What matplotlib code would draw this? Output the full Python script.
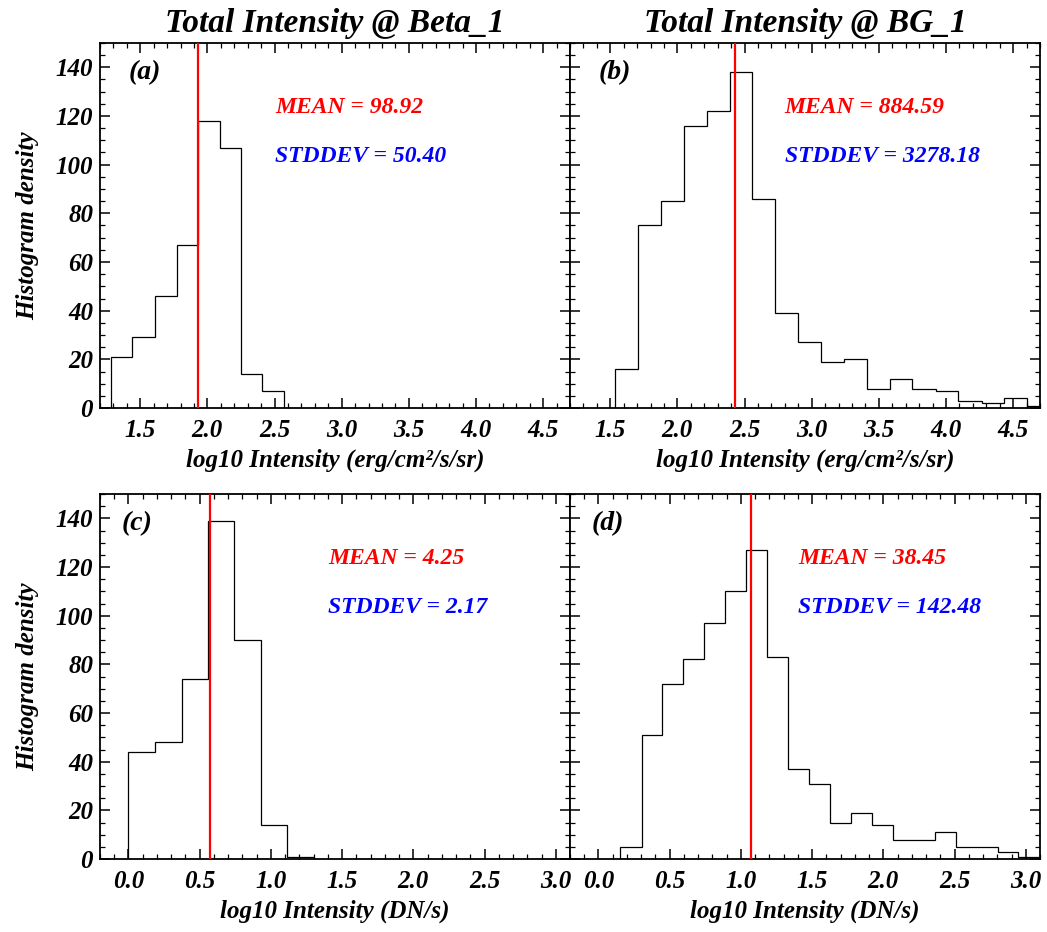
import matplotlib

matplotlib.use("Agg")

import matplotlib.pyplot as plt
from matplotlib.ticker import MultipleLocator

plt.rcParams["font.family"] = ["Liberation Serif", "DejaVu Serif"]
plt.rcParams["font.weight"] = "bold"
plt.rcParams["font.style"] = "italic"
plt.rcParams["axes.titleweight"] = "bold"
plt.rcParams["axes.labelweight"] = "bold"

# panel (a): Beta_1, erg units
edges_a = [1.28, 1.44, 1.61, 1.77, 1.93, 2.09, 2.25, 2.41, 2.57]
counts_a = [21, 29, 46, 67, 118, 107, 14, 7]
line_a = 1.93

# panel (b): BG_1, erg units
edges_b = [1.535, 1.709, 1.878, 2.047, 2.220, 2.389, 2.558, 2.727, 2.900, 3.069,
           3.238, 3.411, 3.580, 3.749, 3.923, 4.092, 4.265, 4.429, 4.603, 4.774]
counts_b = [16, 75, 85, 116, 122, 138, 86, 39, 27, 19, 20, 8, 12, 8, 7, 3, 2, 4, 1]
line_b = 2.43

# panel (c): Beta_1, DN/s
edges_c = [0.0, 0.186, 0.373, 0.560, 0.743, 0.928, 1.113, 1.300]
counts_c = [44, 48, 74, 139, 90, 14, 1]
line_c = 0.57

# panel (d): BG_1, DN/s
edges_d = [0.151, 0.303, 0.448, 0.596, 0.743, 0.891, 1.038, 1.183, 1.333, 1.481, 1.628,
           1.774, 1.921, 2.069, 2.216, 2.364, 2.509, 2.656, 2.804, 2.949, 3.097]
counts_d = [5, 51, 72, 82, 97, 110, 127, 83, 37, 31, 15, 19, 14, 8, 8, 11, 5, 5, 3, 1]
line_d = 1.07

panel_tags = ["(a)", "(b)", "(c)", "(d)"]
mean_texts = ["MEAN = 98.92", "MEAN = 884.59", "MEAN = 4.25", "MEAN = 38.45"]
std_texts = ["STDDEV = 50.40", "STDDEV = 3278.18", "STDDEV = 2.17", "STDDEV = 142.48"]
titles = ["Total Intensity @ Beta_1", "Total Intensity @ BG_1"]
xlabel_top = "log10 Intensity (erg/cm\u00b2/s/sr)"
xlabel_bottom = "log10 Intensity (DN/s)"
ylabel = "Histogram density"

W, H = 1047, 932
fig = plt.figure(figsize=(W / 100, H / 100), dpi=100)


def px_axes(x0, x1, y0, y1):
    return fig.add_axes([x0 / W, 1 - y1 / H, (x1 - x0) / W, (y1 - y0) / H])


axes = [
    px_axes(100, 570, 43, 408),
    px_axes(570, 1040, 43, 408),
    px_axes(100, 570, 494, 859),
    px_axes(570, 1040, 494, 859),
]

data = [
    (edges_a, counts_a, line_a),
    (edges_b, counts_b, line_b),
    (edges_c, counts_c, line_c),
    (edges_d, counts_d, line_d),
]
mean_x = [0.372, 0.457, 0.485, 0.485]
tag_x = [0.06, 0.06, 0.047, 0.047]

for i, ax in enumerate(axes):
    edges, counts, vline = data[i]
    ax.stairs(counts, edges, color="black", linewidth=0.9, baseline=0, zorder=2)
    ax.axvline(vline, color="red", linewidth=1.6, zorder=3)

    top = i < 2
    if top:
        ax.set_xlim(1.2, 4.7)
        ax.set_xlabel(xlabel_top, fontsize=18, labelpad=5)
    else:
        ax.set_xlim(-0.2, 3.1)
        ax.set_xlabel(xlabel_bottom, fontsize=18, labelpad=5)
    ax.xaxis.set_major_locator(MultipleLocator(0.5))
    ax.xaxis.set_minor_locator(MultipleLocator(0.1))
    ax.xaxis.set_major_formatter(plt.FormatStrFormatter("%.1f"))

    ax.set_ylim(0, 150)
    ax.yaxis.set_major_locator(MultipleLocator(20))
    ax.yaxis.set_minor_locator(MultipleLocator(5))

    ax.tick_params(which="both", direction="in", top=True, right=True, labelsize=18)
    ax.tick_params(which="major", length=7, width=1.1, pad=8)
    ax.tick_params(which="minor", length=3.6, width=0.9)
    ax.tick_params(axis="y", which="major", pad=5)
    for sp in ax.spines.values():
        sp.set_linewidth(1.3)

    if i % 2 == 0:
        ax.set_ylabel(ylabel, fontsize=18, labelpad=12)
    else:
        ax.tick_params(axis="y", labelleft=False)

    if top:
        ax.set_title(titles[i], fontsize=24, pad=8)

    ax.text(tag_x[i], 0.92, panel_tags[i], transform=ax.transAxes,
            fontsize=20, color="black", va="center", ha="left")
    ax.text(mean_x[i], 0.822, mean_texts[i], transform=ax.transAxes,
            fontsize=17, color="red", va="center", ha="left")
    ax.text(mean_x[i], 0.688, std_texts[i], transform=ax.transAxes,
            fontsize=17, color="blue", va="center", ha="left")

fig.savefig("out.png", dpi=100)
plt.close(fig)
